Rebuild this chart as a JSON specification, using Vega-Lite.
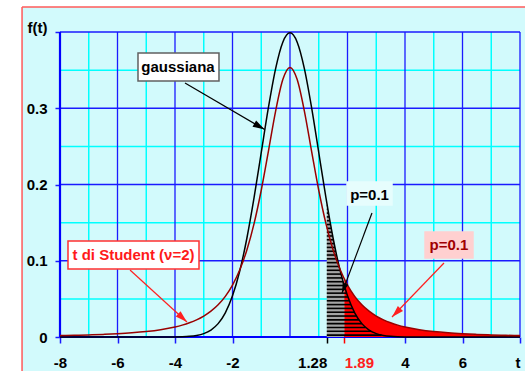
{
  "$schema": "https://vega.github.io/schema/vega-lite/v6.json",
  "width": 460,
  "height": 305,
  "autosize": {"type": "none"},
  "padding": {"left": 60, "top": 32, "right": 5, "bottom": 34},
  "background": "#d2fafc",
  "config": {"view": {"stroke": null}, "axis": {"title": null, "grid": false, "domain": false}},
  "resolve": {"scale": {"color": "independent", "fill": "independent", "stroke": "independent"}},
  "datasets": {
    "strips": [
      {"x": -12, "x2": -9.32, "y": -0.2, "y2": 0.6},
      {"x": -12, "x2": 10, "y": 0.4328, "y2": 0.6}
    ],
    "frame": [
      {"x": -9.32, "x2": -9.32, "y": -0.2, "y2": 0.4328},
      {"x": -9.32, "x2": 10, "y": 0.4328, "y2": 0.4328}
    ],
    "vmajor": [{"x": -8}, {"x": -6}, {"x": -4}, {"x": -2}, {"x": 0}, {"x": 2}, {"x": 4}, {"x": 6}, {"x": 8}],
    "vminor": [{"x": -7}, {"x": -5}, {"x": -3}, {"x": -1}, {"x": 1}, {"x": 3}, {"x": 5}, {"x": 7}],
    "hmajor": [{"y": 0.1}, {"y": 0.2}, {"y": 0.3}, {"y": 0.4}],
    "hminor": [{"y": 0.05}, {"y": 0.15}, {"y": 0.25}, {"y": 0.35}],
    "xaxisline": [{"y": 0}],
    "yaxisline": [{"x": -8}],
    "curve": [
      {"x": -8, "g": 0, "t": 0.001865},
      {"x": -7.5, "g": 0, "t": 0.002249},
      {"x": -7, "g": 0, "t": 0.002746},
      {"x": -6.5, "g": 0, "t": 0.003397},
      {"x": -6, "g": 0, "t": 0.004269},
      {"x": -5.5, "g": 0, "t": 0.00546},
      {"x": -5, "g": 0.0000015, "t": 0.007128},
      {"x": -4.5, "g": 0.000016, "t": 0.009528},
      {"x": -4, "g": 0.000134, "t": 0.013095},
      {"x": -3.75, "g": 0.000353, "t": 0.01554},
      {"x": -3.5, "g": 0.000873, "t": 0.01859},
      {"x": -3.25, "g": 0.002029, "t": 0.02246},
      {"x": -3, "g": 0.004432, "t": 0.02741},
      {"x": -2.75, "g": 0.009094, "t": 0.03382},
      {"x": -2.5, "g": 0.017528, "t": 0.04219},
      {"x": -2.25, "g": 0.03174, "t": 0.05328},
      {"x": -2, "g": 0.053991, "t": 0.06804},
      {"x": -1.75, "g": 0.086277, "t": 0.08779},
      {"x": -1.5, "g": 0.129518, "t": 0.11414},
      {"x": -1.25, "g": 0.182649, "t": 0.14872},
      {"x": -1, "g": 0.241971, "t": 0.19245},
      {"x": -0.75, "g": 0.301137, "t": 0.24378},
      {"x": -0.5, "g": 0.352065, "t": 0.2963},
      {"x": -0.25, "g": 0.386668, "t": 0.3376},
      {"x": 0, "g": 0.398942, "t": 0.353553},
      {"x": 0.25, "g": 0.386668, "t": 0.3376},
      {"x": 0.5, "g": 0.352065, "t": 0.2963},
      {"x": 0.75, "g": 0.301137, "t": 0.24378},
      {"x": 1, "g": 0.241971, "t": 0.19245},
      {"x": 1.25, "g": 0.182649, "t": 0.14872},
      {"x": 1.5, "g": 0.129518, "t": 0.11414},
      {"x": 1.75, "g": 0.086277, "t": 0.08779},
      {"x": 2, "g": 0.053991, "t": 0.06804},
      {"x": 2.25, "g": 0.03174, "t": 0.05328},
      {"x": 2.5, "g": 0.017528, "t": 0.04219},
      {"x": 2.75, "g": 0.009094, "t": 0.03382},
      {"x": 3, "g": 0.004432, "t": 0.02741},
      {"x": 3.25, "g": 0.002029, "t": 0.02246},
      {"x": 3.5, "g": 0.000873, "t": 0.01859},
      {"x": 3.75, "g": 0.000353, "t": 0.01554},
      {"x": 4, "g": 0.000134, "t": 0.013095},
      {"x": 4.5, "g": 0.000016, "t": 0.009528},
      {"x": 5, "g": 0.0000015, "t": 0.007128},
      {"x": 5.5, "g": 0, "t": 0.00546},
      {"x": 6, "g": 0, "t": 0.004269},
      {"x": 6.5, "g": 0, "t": 0.003397},
      {"x": 7, "g": 0, "t": 0.002746},
      {"x": 7.5, "g": 0, "t": 0.002249},
      {"x": 8, "g": 0, "t": 0.001865}
    ],
    "tail_g": [
      {"x": 1.28, "y": 0.17585},
      {"x": 1.4, "y": 0.14973},
      {"x": 1.5, "y": 0.12952},
      {"x": 1.6, "y": 0.11092},
      {"x": 1.7, "y": 0.09405},
      {"x": 1.8, "y": 0.07895},
      {"x": 1.89, "y": 0.06687}
    ],
    "tail_t": [
      {"x": 1.89, "y": 0.07603},
      {"x": 2, "y": 0.06804},
      {"x": 2.25, "y": 0.05328},
      {"x": 2.5, "y": 0.04219},
      {"x": 2.75, "y": 0.03382},
      {"x": 3, "y": 0.02741},
      {"x": 3.25, "y": 0.02246},
      {"x": 3.5, "y": 0.01859},
      {"x": 3.75, "y": 0.01554},
      {"x": 4, "y": 0.013095},
      {"x": 4.5, "y": 0.009528},
      {"x": 5, "y": 0.007128},
      {"x": 5.5, "y": 0.00546},
      {"x": 6, "y": 0.004269},
      {"x": 6.5, "y": 0.003397},
      {"x": 7, "y": 0.002746},
      {"x": 7.5, "y": 0.002249},
      {"x": 8, "y": 0.001865}
    ],
    "hatch": [
      {"y": 0.0025, "x1": 1.28, "x2": 3.1851}, {"y": 0.0075, "x1": 1.28, "x2": 2.8192}, {"y": 0.0125, "x1": 1.28, "x2": 2.6318},
      {"y": 0.0175, "x1": 1.28, "x2": 2.5006}, {"y": 0.0225, "x1": 1.28, "x2": 2.3981}, {"y": 0.0275, "x1": 1.28, "x2": 2.3129},
      {"y": 0.0325, "x1": 1.28, "x2": 2.2395}, {"y": 0.0375, "x1": 1.28, "x2": 2.1746}, {"y": 0.0425, "x1": 1.28, "x2": 2.1163},
      {"y": 0.0475, "x1": 1.28, "x2": 2.0631}, {"y": 0.0525, "x1": 1.28, "x2": 2.014}, {"y": 0.0575, "x1": 1.28, "x2": 1.9683},
      {"y": 0.0625, "x1": 1.28, "x2": 1.9254}, {"y": 0.0675, "x1": 1.28, "x2": 1.885}, {"y": 0.0725, "x1": 1.28, "x2": 1.8467},
      {"y": 0.0775, "x1": 1.28, "x2": 1.8103}, {"y": 0.0825, "x1": 1.28, "x2": 1.7754}, {"y": 0.0875, "x1": 1.28, "x2": 1.7419},
      {"y": 0.0925, "x1": 1.28, "x2": 1.7098}, {"y": 0.0975, "x1": 1.28, "x2": 1.6787}, {"y": 0.1025, "x1": 1.28, "x2": 1.6486},
      {"y": 0.1075, "x1": 1.28, "x2": 1.6195}, {"y": 0.1125, "x1": 1.28, "x2": 1.5911}, {"y": 0.1175, "x1": 1.28, "x2": 1.5636},
      {"y": 0.1225, "x1": 1.28, "x2": 1.5367}, {"y": 0.1275, "x1": 1.28, "x2": 1.5104}, {"y": 0.1325, "x1": 1.28, "x2": 1.4847},
      {"y": 0.1375, "x1": 1.28, "x2": 1.4596}, {"y": 0.1425, "x1": 1.28, "x2": 1.4349}, {"y": 0.1475, "x1": 1.28, "x2": 1.4107},
      {"y": 0.1525, "x1": 1.28, "x2": 1.3868}, {"y": 0.1575, "x1": 1.28, "x2": 1.3634}, {"y": 0.1625, "x1": 1.28, "x2": 1.3403},
      {"y": 0.1675, "x1": 1.28, "x2": 1.3175}, {"y": 0.1725, "x1": 1.28, "x2": 1.2949}
    ],
    "notes": [
      {"id": "g", "label": "gaussiana", "x1": -5.287, "x2": -2.47, "y1": 0.3725, "y2": 0.3357, "tx": -3.896, "ty": 0.3541, "ax": -3.652, "ay": 0.3331, "bx": -0.88, "by": 0.272},
      {"id": "p1", "label": "p=0.1", "x1": 1.983, "x2": 3.548, "y1": 0.2033, "y2": 0.1731, "tx": 2.766, "ty": 0.1862, "ax": 2.852, "ay": 0.1626, "bx": 1.809, "by": 0.0577},
      {"id": "t", "label": "t di Student (ν=2)", "x1": -7.722, "x2": -3.165, "y1": 0.1259, "y2": 0.0892, "tx": -5.443, "ty": 0.1075, "ax": -5.565, "ay": 0.0879, "bx": -3.583, "by": 0.0197},
      {"id": "p2", "label": "p=0.1", "x1": 4.696, "x2": 6.365, "y1": 0.1377, "y2": 0.1036, "tx": 5.53, "ty": 0.1207, "ax": 5.356, "ay": 0.097, "bx": 3.548, "by": 0.0262}
    ]
  },
  "layer": [
    {
      "data": {"name": "vmajor"},
      "mark": {"type": "rule", "color": "#1a1aff", "strokeWidth": 1.3, "opacity": 0},
      "encoding": {
        "x": {
          "field": "x", "type": "quantitative",
          "scale": {"domain": [-8, 8], "nice": false, "zero": false},
          "axis": {
            "values": [-8, -6, -4, -2, 1.28, 1.89, 4, 6, 8],
            "labelExpr": "datum.value == 8 ? 't' : '' + datum.value",
            "title": null, "grid": false, "domain": false,
            "tickSize": 6, "tickWidth": 1.5,
            "tickColor": {"condition": [{"test": "datum.value == 1.28", "value": "black"}, {"test": "datum.value == 1.89", "value": "#ff0000"}], "value": "#1a1aff"},
            "labelColor": {"condition": {"test": "datum.value == 1.89", "value": "#ff2020"}, "value": "black"},
            "labelAlign": {"condition": [{"test": "datum.value == 1.28 || datum.value == 8", "value": "right"}, {"test": "datum.value == 1.89", "value": "left"}], "value": "center"},
            "labelFont": "Liberation Sans", "labelFontWeight": "bold", "labelFontSize": 15,
            "labelPadding": 12, "labelFlush": false, "labelOverlap": false, "labelBound": false
          }
        }
      }
    },
    {
      "data": {"name": "hmajor"},
      "mark": {"type": "rule", "color": "#1a1aff", "strokeWidth": 1.3, "opacity": 0},
      "encoding": {
        "y": {
          "field": "y", "type": "quantitative",
          "scale": {"domain": [0, 0.4], "nice": false, "zero": false},
          "axis": {
            "values": [0, 0.1, 0.2, 0.3, 0.4],
            "labelExpr": "datum.value == 0.4 ? 'f(t)' : '' + datum.value",
            "title": null, "grid": false, "domain": false,
            "tickSize": 5, "tickWidth": 1.5, "tickColor": "#1a1aff",
            "labelFont": "Liberation Sans", "labelFontWeight": "bold", "labelFontSize": 15,
            "labelColor": "black", "labelPadding": 8, "labelFlush": false, "labelOverlap": false,
            "labelBaseline": {"condition": {"test": "datum.value == 0.4", "value": "alphabetic"}, "value": "middle"}
          }
        }
      }
    },
    {
      "data": {"name": "strips"},
      "mark": {"type": "rect", "fill": "white"},
      "encoding": {
        "x": {"field": "x", "type": "quantitative"},
        "x2": {"field": "x2"},
        "y": {"field": "y", "type": "quantitative"},
        "y2": {"field": "y2"}
      }
    },
    {
      "data": {"name": "frame"},
      "mark": {"type": "rule", "color": "#ff5a5a", "strokeWidth": 1.5},
      "encoding": {
        "x": {"field": "x", "type": "quantitative"},
        "x2": {"field": "x2"},
        "y": {"field": "y", "type": "quantitative"},
        "y2": {"field": "y2"}
      }
    },
    {
      "data": {"name": "vminor"},
      "mark": {"type": "rule", "color": "#00ffff", "strokeWidth": 1.5},
      "encoding": {"x": {"field": "x", "type": "quantitative"}}
    },
    {
      "data": {"name": "hminor"},
      "mark": {"type": "rule", "color": "#00ffff", "strokeWidth": 1.5},
      "encoding": {"y": {"field": "y", "type": "quantitative"}}
    },
    {
      "data": {"name": "vmajor"},
      "mark": {"type": "rule", "color": "#1a1aff", "strokeWidth": 1.3},
      "encoding": {"x": {"field": "x", "type": "quantitative"}}
    },
    {
      "data": {"name": "hmajor"},
      "mark": {"type": "rule", "color": "#1a1aff", "strokeWidth": 1.3},
      "encoding": {"y": {"field": "y", "type": "quantitative"}}
    },
    {
      "data": {"name": "xaxisline"},
      "mark": {"type": "rule", "color": "#0000ff", "strokeWidth": 2.2},
      "encoding": {"y": {"field": "y", "type": "quantitative"}}
    },
    {
      "data": {"name": "yaxisline"},
      "mark": {"type": "rule", "color": "#0000ff", "strokeWidth": 2.2},
      "encoding": {"x": {"field": "x", "type": "quantitative"}}
    },
    {
      "data": {"name": "tail_g"},
      "mark": {"type": "area", "color": "#a4a4a4", "interpolate": "monotone", "opacity": 1},
      "encoding": {
        "x": {"field": "x", "type": "quantitative"},
        "y": {"field": "y", "type": "quantitative"}
      }
    },
    {
      "data": {"name": "tail_t"},
      "mark": {"type": "area", "color": "#ff0000", "interpolate": "monotone", "opacity": 1},
      "encoding": {
        "x": {"field": "x", "type": "quantitative"},
        "y": {"field": "y", "type": "quantitative"}
      }
    },
    {
      "data": {"name": "hatch"},
      "mark": {"type": "rule", "color": "black", "strokeWidth": 1.6},
      "encoding": {
        "x": {"field": "x1", "type": "quantitative"},
        "x2": {"field": "x2"},
        "y": {"field": "y", "type": "quantitative"}
      }
    },
    {
      "data": {"name": "curve"},
      "mark": {"type": "line", "color": "black", "strokeWidth": 1.5, "interpolate": "monotone"},
      "encoding": {
        "x": {"field": "x", "type": "quantitative"},
        "y": {"field": "g", "type": "quantitative"}
      }
    },
    {
      "data": {"name": "curve"},
      "mark": {"type": "line", "color": "#990000", "strokeWidth": 1.5, "interpolate": "monotone"},
      "encoding": {
        "x": {"field": "x", "type": "quantitative"},
        "y": {"field": "t", "type": "quantitative"}
      }
    },
    {
      "data": {"name": "notes"},
      "mark": {"type": "rule", "strokeWidth": 1.2},
      "encoding": {
        "x": {"field": "ax", "type": "quantitative"},
        "y": {"field": "ay", "type": "quantitative"},
        "x2": {"field": "bx"},
        "y2": {"field": "by"},
        "color": {"field": "id", "type": "nominal", "scale": {"domain": ["g", "p1", "t", "p2"], "range": ["black", "black", "#ff2020", "#ff2020"]}, "legend": null}
      }
    },
    {
      "data": {"name": "notes"},
      "mark": {"type": "rect", "strokeWidth": 1.5},
      "encoding": {
        "x": {"field": "x1", "type": "quantitative"},
        "x2": {"field": "x2"},
        "y": {"field": "y1", "type": "quantitative"},
        "y2": {"field": "y2"},
        "fill": {"field": "id", "type": "nominal", "scale": {"domain": ["g", "p1", "t", "p2"], "range": ["white", "#e6fdfd", "white", "#ffd0d0"]}, "legend": null},
        "stroke": {"field": "id", "type": "nominal", "scale": {"domain": ["g", "p1", "t", "p2"], "range": ["#606060", "#e6fdfd", "#ff3030", "#ffd0d0"]}, "legend": null}
      }
    },
    {
      "data": {"name": "notes"},
      "mark": {"type": "text", "font": "Liberation Sans", "fontWeight": "bold", "fontSize": 15, "align": "center", "baseline": "middle"},
      "encoding": {
        "x": {"field": "tx", "type": "quantitative"},
        "y": {"field": "ty", "type": "quantitative"},
        "text": {"field": "label"},
        "color": {"field": "id", "type": "nominal", "scale": {"domain": ["g", "p1", "t", "p2"], "range": ["black", "black", "#ff1a1a", "#a00000"]}, "legend": null}
      }
    },
    {
      "data": {"name": "notes"},
      "transform": [{"filter": "datum.id == 'g'"}],
      "mark": {"type": "point", "shape": "M0,0L-0.6,2L0.6,2Z", "angle": 120, "size": 144, "filled": true, "color": "black", "opacity": 1},
      "encoding": {
        "x": {"field": "bx", "type": "quantitative"},
        "y": {"field": "by", "type": "quantitative"}
      }
    },
    {
      "data": {"name": "notes"},
      "transform": [{"filter": "datum.id == 'p1'"}],
      "mark": {"type": "point", "shape": "M0,0L-0.6,2L0.6,2Z", "angle": 200.6, "size": 100, "filled": true, "color": "black", "opacity": 1},
      "encoding": {
        "x": {"field": "bx", "type": "quantitative"},
        "y": {"field": "by", "type": "quantitative"}
      }
    },
    {
      "data": {"name": "notes"},
      "transform": [{"filter": "datum.id == 't'"}],
      "mark": {"type": "point", "shape": "M0,0L-0.6,2L0.6,2Z", "angle": 132.4, "size": 144, "filled": true, "color": "#ff2020", "opacity": 1},
      "encoding": {
        "x": {"field": "bx", "type": "quantitative"},
        "y": {"field": "by", "type": "quantitative"}
      }
    },
    {
      "data": {"name": "notes"},
      "transform": [{"filter": "datum.id == 'p2'"}],
      "mark": {"type": "point", "shape": "M0,0L-0.6,2L0.6,2Z", "angle": 224.5, "size": 144, "filled": true, "color": "#ff2020", "opacity": 1},
      "encoding": {
        "x": {"field": "bx", "type": "quantitative"},
        "y": {"field": "by", "type": "quantitative"}
      }
    }
  ]
}
